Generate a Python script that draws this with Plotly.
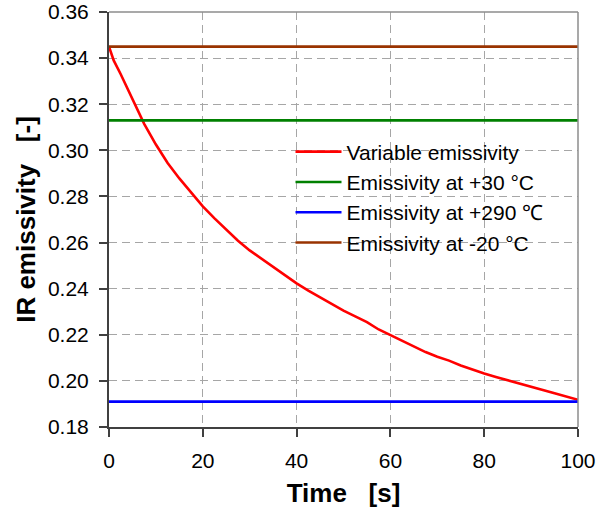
import plotly.graph_objects as go

# Time axis (s) and measured / reference emissivities
time_s = [0, 1, 2.5, 5, 7.5, 10, 12.5, 15, 17.5, 20, 22.5, 25, 27.5, 30, 32.5, 35,
          37.5, 40, 42.5, 45, 47.5, 50, 52.5, 55, 57.5, 60, 62.5, 65, 67.5, 70,
          72.5, 75, 77.5, 80, 82.5, 85, 87.5, 90, 92.5, 95, 97.5, 100]
variable_eps = [0.345, 0.339, 0.333, 0.3223, 0.3115, 0.3025, 0.2945, 0.2878, 0.2815,
                0.2757, 0.2705, 0.2655, 0.2608, 0.2566, 0.2530, 0.2492, 0.2458, 0.2423,
                0.2392, 0.2362, 0.2333, 0.2305, 0.2280, 0.2255, 0.2223, 0.2198, 0.2175,
                0.2147, 0.2125, 0.2105, 0.2088, 0.2067, 0.2048, 0.2032, 0.2017, 0.2002,
                0.1988, 0.1974, 0.1960, 0.1946, 0.1932, 0.1918]
const_time = [0, 100]
eps_p30 = 0.313
eps_p290 = 0.191
eps_m20 = 0.345

series = [
    ("Variable emissivity", time_s, variable_eps, "#ff0000"),
    ("Emissivity at +30 °C", const_time, [eps_p30] * 2, "#008000"),
    ("Emissivity at +290 ℃", const_time, [eps_p290] * 2, "#0000ff"),
    ("Emissivity at -20 °C", const_time, [eps_m20] * 2, "#993300"),
]

x_ticks = [0, 20, 40, 60, 80, 100]
y_ticks = [0.18, 0.20, 0.22, 0.24, 0.26, 0.28, 0.30, 0.32, 0.34, 0.36]

FONT = "Liberation Sans, Arial, sans-serif"
NB = "\u00a0"

fig = go.Figure()
for name, xs, ys, color in series:
    fig.add_trace(go.Scatter(x=xs, y=ys, mode="lines", name=name,
                             line=dict(color=color, width=2.6)))

axis_common = dict(
    showgrid=True, gridcolor="#a6a6a6", gridwidth=1, griddash="8px,5px",
    showline=True, linecolor="#404040", linewidth=2,
    ticks="outside", ticklen=8, tickwidth=1.5, tickcolor="#404040",
    tickfont=dict(family=FONT, size=21, color="black"),
    zeroline=False, mirror=False, automargin=False,
)

fig.update_xaxes(range=[0, 100], tickvals=x_ticks, ticktext=[str(v) for v in x_ticks],
                 ticklabelstandoff=6,
                 title=dict(text=f"<b>Time{NB*3}[s]</b>",
                            font=dict(family=FONT, size=26, color="black"),
                            standoff=13),
                 **axis_common)
fig.update_yaxes(range=[0.18, 0.36], tickvals=y_ticks,
                 ticktext=[f"{v:.2f}" for v in y_ticks],
                 ticklabelstandoff=6,
                 title=dict(text=f"<b>IR emissivity{NB*3}[-]</b>",
                            font=dict(family=FONT, size=26, color="black"),
                            standoff=5),
                 **axis_common)

# light frame on the top and right edges of the plot area
fig.add_shape(type="line", xref="paper", yref="paper", x0=0, x1=1, y0=1, y1=1,
              line=dict(color="#8c8c8c", width=1.5))
fig.add_shape(type="line", xref="paper", yref="paper", x0=1, x1=1, y0=0, y1=1,
              line=dict(color="#8c8c8c", width=1.5))
# white panel behind the legend, hiding the grid there
fig.add_shape(type="rect", xref="paper", yref="paper", layer="between",
              x0=0.343, x1=0.997, y0=0.407, y1=0.699,
              fillcolor="white", line=dict(width=0))

fig.update_layout(
    width=608, height=514,
    margin=dict(l=109, r=30, t=12, b=87),
    paper_bgcolor="white", plot_bgcolor="white",
    font=dict(family=FONT, color="black"),
    legend=dict(x=0.387, y=0.712, xanchor="left", yanchor="top",
                bgcolor="rgba(0,0,0,0)", borderwidth=0,
                font=dict(family=FONT, size=21, color="black"),
                itemwidth=46, tracegroupgap=0),
    showlegend=True,
)

fig.write_html("out.html")
